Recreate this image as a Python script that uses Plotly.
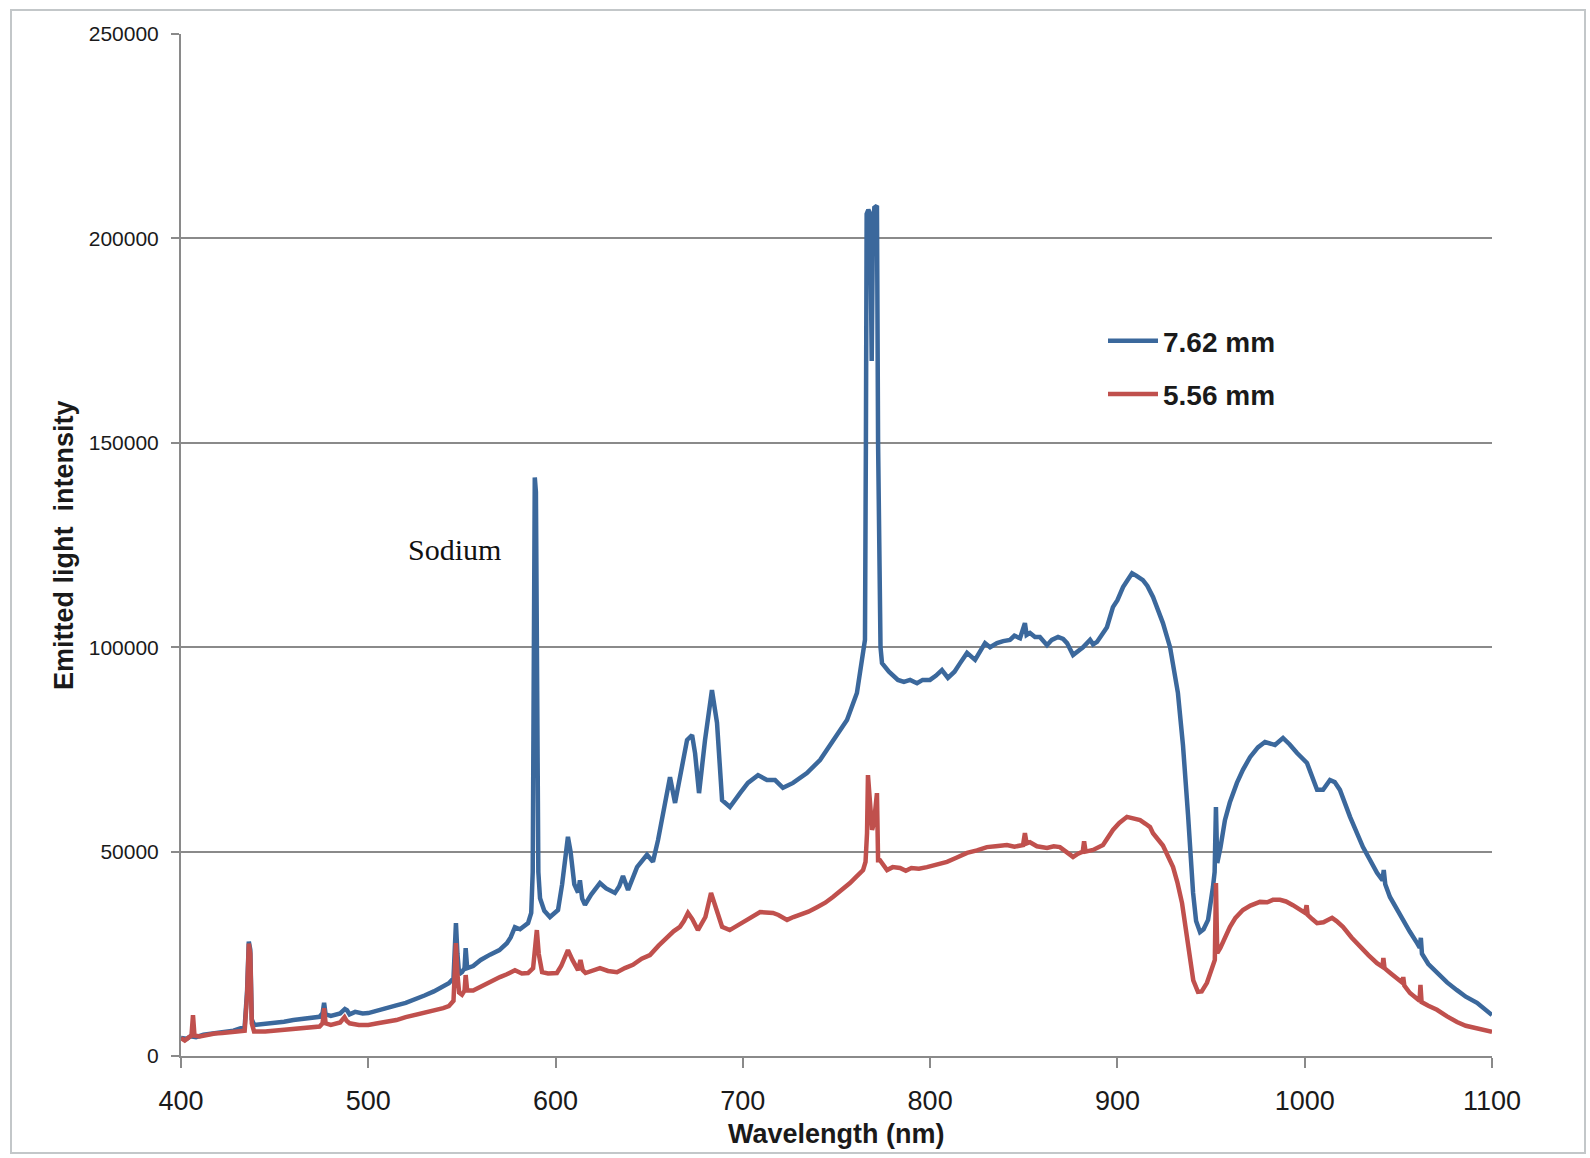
import plotly.graph_objects as go

# Emission spectra for two sample thicknesses (wavelength in nm, intensity in counts)
wl_762 = [400, 403, 405, 408, 412, 416, 420, 424, 428, 432, 434, 435.3, 436.2, 437, 437.8, 439, 445, 450, 455, 460,
          465, 470, 474, 475.6, 476.4, 477.2, 480, 485, 487.5, 488.6, 490, 493, 497, 500, 505, 510, 515, 520, 525, 530,
          535, 540, 543, 545.5, 546.3, 546.8, 547.6, 548.5, 550, 551.4, 552, 552.8, 556, 560, 565, 570, 574, 576, 578.3,
          581, 585.3, 587, 587.8, 588.4, 588.9, 589.5, 590.1, 590.8, 591.7, 594, 597, 601.3, 603.5, 605.5, 606.6, 608,
          610, 612, 613, 614.2, 615.7, 619, 623.7, 627, 631.7, 634, 636, 638.7, 643.5, 648.8, 652, 654.7, 658.4, 660,
          661.1, 663.8, 667.5, 670.2, 672.9, 674.5, 676.6, 679.8, 683.5, 686.2, 688.9, 693.1, 698.5, 702.7, 708.1,
          712.9, 717.2, 721.4, 726.8, 734.2, 741.2, 748.1, 755.6, 760.9, 763.6, 765.2, 765.7, 766.1, 767, 768, 768.8,
          769.4, 770.2, 771, 771.6, 772.2, 772.8, 773.5, 774.3, 778, 782.8, 786, 789.3, 793, 796, 799.9, 803, 806.3,
          809.5, 813, 816, 819.7, 824, 827, 829.3, 832, 835.7, 839, 842.6, 845, 848, 850.6, 851.5, 853.3, 856, 858.6,
          862.4, 865, 868.3, 871, 873.1, 876.3, 878.5, 881.6, 885.4, 887, 889.1, 894.4, 897.6, 900, 903, 907.8, 910,
          913.6, 916, 919, 924.3, 928.1, 932.3, 935, 937.7, 940.4, 942, 944.1, 946, 948.4, 951, 951.9, 952.6, 953.3,
          955, 957.4, 960, 963.8, 967, 970.8, 975, 978.8, 984.1, 988.4, 992, 995.9, 1001.2, 1004, 1006.6, 1009.8,
          1013.5, 1016, 1018.8, 1024.2, 1031.1, 1038.6, 1041.5, 1042.2, 1043, 1045.5, 1049, 1052.5, 1056, 1060,
          1061.4, 1062, 1062.6, 1066, 1070.6, 1076, 1081.3, 1086, 1092, 1096, 1100]
int_762 = [4400, 4200, 4800, 4600, 5200, 5400, 5600, 6000, 6200, 6800, 7200, 16000, 28000, 26000, 9000, 7600, 7800,
           8200, 8400, 8800, 9000, 9400, 9600, 10500, 13000, 10200, 9800, 10400, 11500, 11200, 10200, 10800, 10400,
           10500, 11200, 11800, 12400, 13000, 13800, 14800, 15800, 16900, 17800, 19000, 28000, 32500, 25000, 20000,
           20500, 21500, 26400, 21500, 22000, 23500, 24800, 25900, 27600, 29000, 31500, 31000, 32500, 35000, 45000,
           110000, 141500, 138000, 95000, 45000, 38600, 35500, 34000, 35700, 42000, 50000, 53600, 50000, 42000,
           40000, 43000, 38500, 37000, 39500, 42300, 41000, 39900, 41500, 44000, 40600, 46200, 49200, 47500, 52800,
           61900, 66000, 68200, 61900, 70700, 77300, 78500, 74000, 64300, 77300, 89500, 81500, 62600, 60900, 64300,
           66800, 68700, 67500, 67500, 65600, 66800, 69200, 72400, 77300, 82200, 88800, 96900, 101800, 150000,
           206000, 207000, 206000, 170000, 200000, 207500, 208000, 208000, 150000, 115000, 100000, 96100, 94000,
           92000, 91500, 92000, 91200, 92000, 92000, 93000, 94400, 92500, 94000, 96100, 98600, 96900, 99000, 101000,
           100000, 101000, 101500, 101800, 102800, 102200, 105900, 103000, 103500, 102500, 102500, 100500, 101800,
           102500, 102000, 101000, 98100, 98800, 100000, 101800, 100700, 101300, 104900, 109800, 111500, 114700,
           118100, 117500, 116400, 115000, 112300, 105900, 100000, 88800, 76000, 59000, 39900, 33000, 30300, 31000,
           33300, 41300, 45000, 60900, 47200, 51000, 57700, 62000, 66800, 70000, 73100, 75500, 76800, 76100, 77800,
           76200, 74100, 71700, 68000, 65100, 65100, 67500, 67000, 65100, 58500, 51100, 44800, 43000, 45500, 42000,
           38900, 36000, 33300, 30500, 27600, 26500, 28900, 25000, 22500, 20300, 18000, 16100, 14500, 13000, 11500,
           10000]

wl_556 = [400, 402, 404, 405.6, 406.4, 407.2, 410, 414, 418, 422, 426, 430, 434, 435.3, 436.2, 437, 437.8, 439, 445,
          450, 455, 460, 465, 470, 474, 475.6, 476.4, 477.2, 480, 485, 487.3, 488.4, 490, 495, 500, 505, 510, 515, 520,
          525, 530, 535, 540, 543, 545.5, 546.3, 546.8, 547.6, 548.5, 550, 551.4, 552, 552.8, 556, 560, 565, 570.3,
          574, 578.3, 582, 585.3, 588, 589.2, 590, 591, 592.8, 596, 600.7, 603, 606.6, 609, 612, 613.3, 614.5, 616,
          620, 623.7, 628, 632.8, 637, 641.3, 646, 650.4, 655, 659.5, 663, 666.4, 668.5, 670.7, 673, 676, 680, 683,
          685.5, 688.9, 693, 697, 702.2, 709.2, 716.1, 719, 723.6, 727, 730.5, 735, 739.6, 744, 748.1, 752, 757.2,
          760.5, 764.2, 765.5, 766.3, 766.8, 767.7, 769, 770, 771, 771.6, 772.2, 773.2, 777, 780, 783.9, 787, 790,
          794, 798.3, 803, 809, 814, 819.7, 825, 830.3, 835, 841, 845, 849.6, 850.6, 851.5, 853.3, 857, 862.4, 866,
          869.3, 873, 876.3, 879, 881.5, 882.2, 883, 887, 892.3, 897.6, 901, 905.1, 908, 912.1, 915, 917.4, 919,
          924.3, 929.7, 932, 934.5, 936.5, 938.7, 940.5, 943, 945, 947.8, 950, 952, 952.6, 953.3, 955, 960.1, 963,
          967, 971, 976.1, 980, 983, 986.8, 990, 993.7, 997, 1000.2, 1001, 1001.6, 1004, 1006.6, 1010, 1014.6, 1017,
          1020.4, 1025, 1029.5, 1034, 1038.6, 1041.5, 1042, 1042.6, 1046, 1049.3, 1052, 1052.6, 1053.2, 1056.2, 1059,
          1061.3, 1061.8, 1062.4, 1066, 1070.6, 1076, 1081.3, 1086, 1092, 1096, 1100]
int_556 = [4400, 3800, 4500, 5000, 10000, 5000, 4800, 5200, 5500, 5600, 5900, 6000, 6200, 15000, 27500, 25000, 8000,
           6000, 6000, 6200, 6200, 6500, 6600, 6900, 7200, 8000, 11700, 8000, 7600, 8200, 9500, 8600, 8000, 7600,
           7600, 8000, 8400, 8800, 9500, 10000, 10500, 11000, 11700, 12200, 13500, 22000, 27600, 20000, 15500, 15000,
           16000, 19800, 16000, 16000, 17000, 18000, 19300, 20000, 21000, 20200, 20300, 21500, 27000, 30800, 25000,
           20500, 20200, 20300, 22000, 25900, 23500, 21000, 23500, 21000, 20300, 21000, 21500, 20800, 20500, 21500,
           22300, 23800, 24700, 27000, 29100, 30500, 31600, 33000, 35000, 33500, 30800, 34000, 39900, 36000, 31600,
           30800, 32000, 33300, 35200, 35000, 34500, 33300, 34000, 34500, 35300, 36400, 37500, 38900, 40300, 42300,
           43800, 45500, 47500, 54500, 68700, 62000, 55300, 57000, 64300, 64300, 47900, 47900, 45500, 46200, 46000,
           45300, 46000, 45800, 46200, 46800, 47500, 48500, 49700, 50300, 51100, 51300, 51600, 51200, 51600, 54500,
           52000, 52300, 51300, 50900, 51300, 51100, 50000, 48700, 49500, 50000, 52500, 50000, 50400, 51600, 55300,
           57000, 58500, 58200, 57700, 56800, 56000, 54500, 51500, 46200, 42500, 37400, 31000, 23500, 18500, 15700,
           15800, 17900, 20500, 23500, 42300, 25200, 26500, 31600, 33800, 35700, 36800, 37700, 37600, 38200, 38200,
           37800, 36900, 36000, 35000, 36900, 34500, 33500, 32500, 32700, 33800, 33000, 31600, 29000, 26700, 24700,
           22700, 21800, 24000, 21500, 20200, 19100, 18000, 19300, 17200, 15400, 14200, 13500, 17400, 13200, 12300,
           11300, 9700, 8300, 7400, 6800, 6300, 5900]

x_ticks = [400, 500, 600, 700, 800, 900, 1000, 1100]
y_ticks = [0, 50000, 100000, 150000, 200000, 250000]

BLUE = "#3b689c"
RED = "#c0504d"
AXIS_GREY = "#8a8a8a"
TEXT = "#1a1a1a"

fig = go.Figure()
fig.add_trace(go.Scatter(x=wl_762, y=int_762, mode="lines", name="7.62 mm", legendgroup="a",
                         line=dict(color=BLUE, width=4.5)))
fig.add_trace(go.Scatter(x=wl_556, y=int_556, mode="lines", name="5.56 mm", legendgroup="b",
                         line=dict(color=RED, width=4.5)))

W, H = 1590, 1158
L, R, T, B = 181, 98, 34, 102
pw, ph = W - L - R, H - T - B


def px(xp):
    return (xp - L) / pw


def py(yp):
    return (H - B - yp) / ph


fig.update_layout(
    width=W, height=H,
    margin=dict(l=L, r=R, t=T, b=B, pad=0),
    paper_bgcolor="white", plot_bgcolor="white",
    font=dict(family="Liberation Sans, Arial, sans-serif", color=TEXT),
    showlegend=True,
    legend=dict(x=px(1103), y=py(316), xanchor="left", yanchor="top",
                font=dict(size=28, family="Liberation Sans, Arial, sans-serif", color=TEXT, weight="bold"),
                bgcolor="rgba(0,0,0,0)", tracegroupgap=14, itemwidth=50),
    xaxis=dict(range=[400, 1100], tickvals=x_ticks, ticktext=[str(v) for v in x_ticks],
               showgrid=False, zeroline=False, showline=True, linecolor=AXIS_GREY, linewidth=2,
               ticks="outside", ticklen=10, tickwidth=2, tickcolor=AXIS_GREY,
               tickfont=dict(size=27, color=TEXT), ticklabelstandoff=10),
    yaxis=dict(range=[0, 250000], tickvals=y_ticks, ticktext=[str(v) for v in y_ticks],
               showgrid=True, gridcolor=AXIS_GREY, gridwidth=1.5, zeroline=False,
               showline=True, linecolor=AXIS_GREY, linewidth=2,
               ticks="outside", ticklen=8, tickwidth=2, tickcolor=AXIS_GREY,
               tickfont=dict(size=21, color=TEXT), ticklabelstandoff=8),
)

# Axis titles
fig.add_annotation(text="<b>Wavelength (nm)</b>", xref="paper", yref="paper", x=0.5, y=py(1134),
                   showarrow=False, font=dict(size=27, color=TEXT), xanchor="center", yanchor="middle")
fig.add_annotation(text="<b>Emitted light  intensity</b>", xref="paper", yref="paper", x=px(64), y=0.5,
                   textangle=-90, showarrow=False, font=dict(size=27, color=TEXT),
                   xanchor="center", yanchor="middle")

# Line label for the sodium doublet
fig.add_annotation(text="Sodium", x=546, y=123800, xref="x", yref="y", showarrow=False,
                   font=dict(family="Liberation Serif, Times New Roman, serif", size=30, color="#111111"))

# Outer chart frame
fig.add_shape(type="rect", xref="paper", yref="paper", x0=px(11), x1=px(1585), y0=py(1153), y1=py(10),
              line=dict(color="#c3c7c9", width=2), fillcolor="rgba(0,0,0,0)", layer="below")

fig.write_html("out.html")
